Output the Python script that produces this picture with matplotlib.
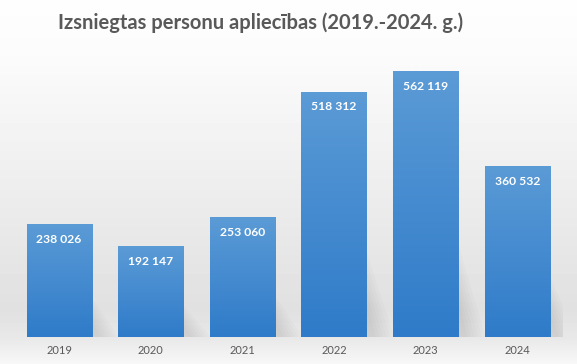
import numpy as np
import matplotlib.pyplot as plt
from matplotlib.colors import LinearSegmentedColormap

years = ['2019', '2020', '2021', '2022', '2023', '2024']
counts = [238026, 192147, 253060, 518312, 562119, 360532]
labels = ['238 026', '192 147', '253 060', '518 312', '562 119', '360 532']

fig = plt.figure(figsize=(5.77, 3.64), dpi=100)

# background gradient (white top, grey lower, lighter floor)
bg = fig.add_axes([0, 0, 1, 1], zorder=0)
rows = np.linspace(0, 1, 364)
shade = np.interp(rows, [0, 0.15, 0.85, 0.93, 1.0], [0.995, 0.985, 0.88, 0.91, 0.97])
img = np.repeat(shade[:, None], 10, axis=1)
bg.imshow(img, cmap='gray', vmin=0, vmax=1, aspect='auto', extent=[0, 1, 0, 1], origin='upper')
bg.axis('off')

ax = fig.add_axes([0.0229, 0.0742, 0.953, 0.780], zorder=1)
ax.patch.set_alpha(0)
x = np.arange(len(years))
bars = ax.bar(x, counts, width=0.71, color='#4a8ed3', zorder=2)

barcmap = LinearSegmentedColormap.from_list('b', ['#2f7bc9', '#5b9bd6'])
grad = np.linspace(0, 1, 256)[:, None]
for b in bars:
    x0, w, h = b.get_x(), b.get_width(), b.get_height()
    # soft diagonal shadow to the right
    for k in range(6):
        sh = plt.Polygon([[x0 + w, 0], [x0 + w, h * (0.15 + 0.04 * k)], [x0 + w + 0.1 + 0.04 * k, 0]],
                         closed=True, color='#000000', alpha=0.015, lw=0, zorder=1)
        ax.add_patch(sh)
    im = ax.imshow(grad, cmap=barcmap, aspect='auto', origin='lower',
                   extent=[x0, x0 + w, 0, h], zorder=3)
    im.set_clip_path(b)

for xi, v, lab in zip(x, counts, labels):
    ax.text(xi, v - 32000, lab, ha='center', va='center', color='white',
            fontsize=8.7, fontweight='bold', family='Lato', zorder=4)

ax.set_xlim(-0.5, 5.5)
ax.set_ylim(0, 600000)
ax.set_xticks(x)
ax.set_xticklabels(years, color='#595959', fontsize=8, family='Lato')
ax.tick_params(axis='x', length=0, pad=6)
ax.set_yticks([])
for s in ax.spines.values():
    s.set_visible(False)

fig.text(0.451, 0.937, 'Izsniegtas personu apliecības (2019.-2024. g.)', ha='center', va='center',
         fontsize=14.5, fontweight='bold', color='#595959', family='Lato')

fig.savefig('out.png', dpi=100)
